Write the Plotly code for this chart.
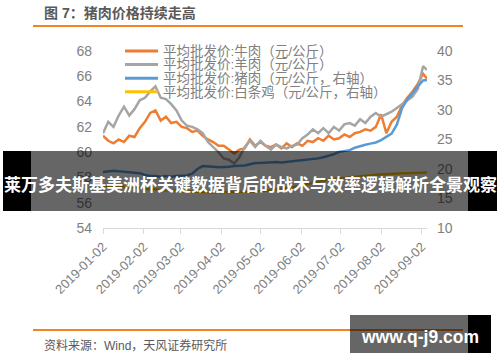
import pandas as pd
import plotly.graph_objects as go

# ---------------- data ----------------
dates = list(pd.date_range("2019-01-02", periods=62, freq="4D").strftime("%Y-%m-%d")) + ["2019-09-06"]

beef = [61.3, 60.9, 60.7, 61.0, 60.8, 61.3, 61.2, 61.9, 62.4, 63.1,
        63.3, 62.5, 62.8, 62.3, 62.4, 62.0, 61.9, 61.6, 61.7, 61.3,
        61.0, 60.8, 60.5, 60.5, 60.2, 59.9, 60.2, 60.3, 61.0, 60.5,
        60.8, 60.5, 60.4, 60.6, 60.3, 60.7, 60.4, 60.7, 60.5, 60.9,
        60.8, 61.1, 60.9, 61.3, 61.0, 61.1, 61.4, 61.2, 61.5, 61.6,
        61.8, 61.7, 62.0, 63.0, 61.5, 62.4, 62.8, 63.7, 64.3, 64.8,
        65.4, 66.2, 65.8]
mutton = [61.5, 62.4, 62.0, 62.9, 63.6, 62.9, 63.4, 64.1, 64.3, 64.8,
          65.2, 64.3, 64.2, 63.8, 63.3, 62.5, 62.1, 62.0, 61.8, 61.5,
          60.8, 60.4, 60.0, 59.5, 59.4, 59.1, 59.6, 60.4, 60.9, 60.4,
          60.9, 60.5, 60.2, 60.6, 60.4, 60.3, 60.5, 60.6, 61.1, 61.4,
          61.8, 61.5, 61.9, 61.5, 62.0, 61.7, 62.2, 62.3, 62.1, 62.6,
          62.3, 62.8, 63.1, 62.8, 63.0, 63.2, 63.5, 63.8, 64.1, 64.4,
          65.0, 66.8, 66.5]
pork = [19.5, 19.6, 19.7, 19.6, 19.5, 19.5, 19.4, 19.3, 19.0, 18.8,
        18.8, 18.7, 18.8, 18.7, 18.8, 18.8, 18.9, 19.2, 20.0, 20.5,
        20.5, 20.4, 20.3, 20.3, 20.4, 20.5, 20.5, 20.6, 20.8, 21.0,
        21.0, 21.1, 21.1, 21.2, 21.1, 21.2, 21.2, 21.3, 21.4, 21.5,
        21.6, 21.8, 22.0, 22.2, 22.5, 22.9, 23.0, 23.2, 23.6, 23.9,
        24.1, 24.3, 24.5, 24.9, 25.4, 26.0, 27.5, 30.3, 31.8, 33.0,
        34.0, 35.0, 35.1]
chicken = [17.2, 17.1, 17.0, 17.1, 16.9, 16.8, 16.9, 16.7, 16.6, 16.6,
           16.5, 16.5, 16.4, 16.4, 16.3, 16.3, 16.2, 16.2, 16.1, 16.1,
           16.1, 16.0, 16.1, 16.1, 16.0, 16.1, 16.1, 16.2, 16.1, 16.2,
           16.2, 16.3, 16.4, 16.5, 16.6, 16.8, 16.9, 17.1, 17.3, 17.5,
           17.7, 17.9, 18.0, 18.2, 18.3, 18.4, 18.5, 18.6, 18.7, 18.8,
           18.9, 19.0, 19.0, 19.1, 19.1, 19.2, 19.2, 19.3, 19.3, 19.3,
           19.4, 19.4, 19.4]

names = ["平均批发价:牛肉（元/公斤）",
         "平均批发价:羊肉（元/公斤）",
         "平均批发价:猪肉（元/公斤，右轴）",
         "平均批发价:白条鸡（元/公斤，右轴）"]
colors = ["#ED7D31", "#A5A5A5", "#5B9BD5", "#FFC000"]
series = [beef, mutton, pork, chicken]
axes = ["y", "y", "y2", "y2"]

xtick_vals = ["2019-01-02", "2019-02-02", "2019-03-02", "2019-04-02", "2019-05-02",
              "2019-06-02", "2019-07-02", "2019-08-02", "2019-09-02"]

title_text = "图 7：猪肉价格持续走高"
source_text = "资料来源：Wind，天风证券研究所"
banner_text = "莱万多夫斯基美洲杯关键数据背后的战术与效率逻辑解析全景观察"
mark_text = "www.q-j9.com"

# ---------------- figure ----------------
W, H = 500, 362
L, R, T, B = 103, 73, 51, 134
PW, PH = W - L - R, H - T - B


def px(x):
    return (x - L) / PW


def py(y):
    return (H - B - y) / PH


CJK = "Liberation Sans, Noto Sans CJK SC"

fig = go.Figure()
for s, n, c, a in zip(series, names, colors, axes):
    fig.add_trace(go.Scatter(x=dates, y=s, name=n, mode="lines",
                             line=dict(color=c, width=2.5), yaxis=a,
                             showlegend=False))

fig.update_layout(
    width=W, height=H,
    margin=dict(l=L, r=R, t=T, b=B),
    paper_bgcolor="white", plot_bgcolor="white",
    font=dict(family=CJK, color="#7F7F7F", size=14),
    xaxis=dict(type="date", range=["2019-01-02", "2019-09-06"],
               tickvals=xtick_vals, tickformat="%Y-%m-%d", tickangle=-45,
               showgrid=False, zeroline=False, showline=True,
               linecolor="#D9D9D9", linewidth=1, ticks="outside",
               ticklen=5, tickcolor="#D9D9D9",
               tickfont=dict(size=13, color="#7F7F7F")),
    yaxis=dict(range=[54, 68], dtick=2, showgrid=False, zeroline=False,
               showline=False, ticks="", ticklabelstandoff=10,
               tickfont=dict(size=14, color="#7F7F7F")),
    yaxis2=dict(range=[10, 40], dtick=5, overlaying="y", side="right",
                showgrid=False, zeroline=False, showline=False, ticks="",
                ticklabelstandoff=9,
                tickfont=dict(size=14, color="#7F7F7F")),
)

shapes = []
annotations = []

# legend (manual, tight spacing)
for i, (n, c) in enumerate(zip(names, colors)):
    yy = 51 + 13.6 * i
    shapes.append(dict(type="line", xref="paper", yref="paper",
                       x0=px(125), x1=px(158), y0=py(yy), y1=py(yy),
                       line=dict(color=c, width=3), layer="above"))
    annotations.append(dict(xref="paper", yref="paper", x=px(161), y=py(yy),
                            text=n, showarrow=False, xanchor="left",
                            yanchor="middle",
                            font=dict(family=CJK, size=13.5, color="#808080")))

# title + separators
annotations.append(dict(xref="paper", yref="paper", x=px(42), y=py(13),
                        text="<b>" + title_text + "</b>", showarrow=False,
                        xanchor="left", yanchor="middle",
                        font=dict(family=CJK, size=14, color="#595959")))
shapes.append(dict(type="line", xref="paper", yref="paper",
                   x0=px(33), x1=px(463), y0=py(26), y1=py(26),
                   line=dict(color="#F5821F", width=2), layer="above"))
shapes.append(dict(type="line", xref="paper", yref="paper",
                   x0=px(33), x1=px(463), y0=py(330), y1=py(330),
                   line=dict(color="#F5821F", width=2), layer="above"))
annotations.append(dict(xref="paper", yref="paper", x=px(42), y=py(345),
                        text=source_text, showarrow=False,
                        xanchor="left", yanchor="middle",
                        font=dict(family=CJK, size=12, color="#595959")))

# banner overlay
shapes.append(dict(type="rect", xref="paper", yref="paper",
                   x0=px(31), x1=px(468), y0=py(211), y1=py(151),
                   fillcolor="rgba(0,0,0,0.6)", line=dict(width=0), layer="above"))
shapes.append(dict(type="rect", xref="paper", yref="paper",
                   x0=px(3), x1=px(31), y0=py(211), y1=py(151),
                   fillcolor="black", line=dict(width=0), layer="above"))
shapes.append(dict(type="rect", xref="paper", yref="paper",
                   x0=px(468), x1=px(497), y0=py(211), y1=py(151),
                   fillcolor="black", line=dict(width=0), layer="above"))
annotations.append(dict(xref="paper", yref="paper", x=px(250), y=py(183),
                        text="<b>" + banner_text + "</b>", showarrow=False,
                        xanchor="center", yanchor="middle",
                        font=dict(family="Noto Sans CJK SC", size=17, color="white")))

# watermark box
shapes.append(dict(type="rect", xref="paper", yref="paper",
                   x0=px(350), x1=px(468), y0=py(353), y1=py(315),
                   fillcolor="rgba(0,0,0,0.6)", line=dict(width=0), layer="above"))
shapes.append(dict(type="rect", xref="paper", yref="paper",
                   x0=px(468), x1=px(491), y0=py(353), y1=py(315),
                   fillcolor="black", line=dict(width=0), layer="above"))
annotations.append(dict(xref="paper", yref="paper", x=px(359), y=py(337),
                        text="<b>" + mark_text + "</b>", showarrow=False,
                        xanchor="left", yanchor="middle",
                        font=dict(family="Liberation Sans", size=17.5, color="white")))

fig.update_layout(shapes=shapes, annotations=annotations)
fig.write_html("out.html")
